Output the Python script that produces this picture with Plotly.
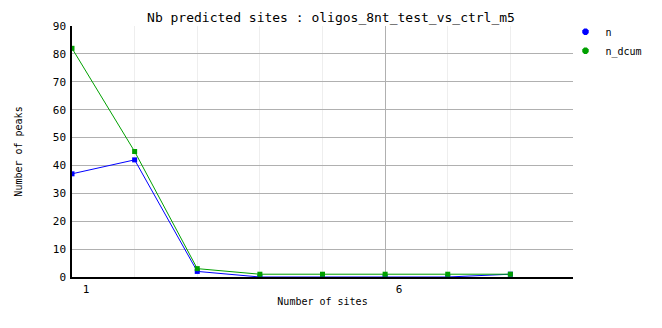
import plotly.graph_objects as go

sites = [1, 2, 3, 4, 5, 6, 7, 8]
n = [37, 42, 2, 0, 0, 0, 0, 1]
n_dcum = [82, 45, 3, 1, 1, 1, 1, 1]
x_tickvals = [1, 6]
y_tickvals = [0, 10, 20, 30, 40, 50, 60, 70, 80, 90]

BLUE = "#0000ff"
GREEN = "#00a000"
FONT = "DejaVu Sans Mono"

fig = go.Figure()
fig.add_trace(go.Scatter(x=sites, y=n, mode="lines+markers", name="n",
                         line=dict(color=BLUE, width=1),
                         marker=dict(color=BLUE, size=5, symbol="square"),
                         showlegend=False))
fig.add_trace(go.Scatter(x=sites, y=n_dcum, mode="lines+markers", name="n_dcum",
                         line=dict(color=GREEN, width=1),
                         marker=dict(color=GREEN, size=5, symbol="square"),
                         showlegend=False))
# legend entries (marker only)
fig.add_trace(go.Scatter(x=[None], y=[None], mode="markers", name="n",
                         marker=dict(color=BLUE, size=7, symbol="octagon")))
fig.add_trace(go.Scatter(x=[None], y=[None], mode="markers", name="n_dcum",
                         marker=dict(color=GREEN, size=7, symbol="octagon")))

fig.update_layout(
    width=662, height=328,
    margin=dict(l=72, r=89, t=26, b=51, autoexpand=False),
    paper_bgcolor="white", plot_bgcolor="white",
    font=dict(family=FONT, size=11, color="black"),
    title=dict(text="Nb predicted sites : oligos_8nt_test_vs_ctrl_m5",
               x=0.5, xanchor="center", y=1 - 17 / 328, yanchor="middle",
               font=dict(family=FONT, size=13)),
    legend=dict(x=0.985, xanchor="left", y=1.035, yanchor="top",
                xref="paper", font=dict(size=10), itemwidth=30,
                tracegroupgap=0, bgcolor="rgba(0,0,0,0)"),
    showlegend=True,
)
fig.update_xaxes(
    range=[1, 9], tickvals=x_tickvals, ticktext=[str(v) for v in x_tickvals],
    showgrid=True, gridcolor="#b0b0b0", gridwidth=1,
    minor=dict(dtick=1, tick0=1, showgrid=True, gridcolor="#eeeeee", gridwidth=1),
    showline=True, linecolor="black", linewidth=1.5,
    ticks="", ticklabelshift=14, ticklabelstandoff=1,
    zeroline=False,
    title=dict(text="Number of sites", font=dict(size=10), standoff=3),
)
fig.update_yaxes(
    range=[0, 90], tickvals=y_tickvals,
    showgrid=True, gridcolor="#b0b0b0", gridwidth=1,
    showline=True, linecolor="black", linewidth=1.5,
    ticks="", ticklabelstandoff=2, zeroline=False,
    title=dict(text="Number of peaks", font=dict(size=10), standoff=28),
)

fig.write_html("out.html")
